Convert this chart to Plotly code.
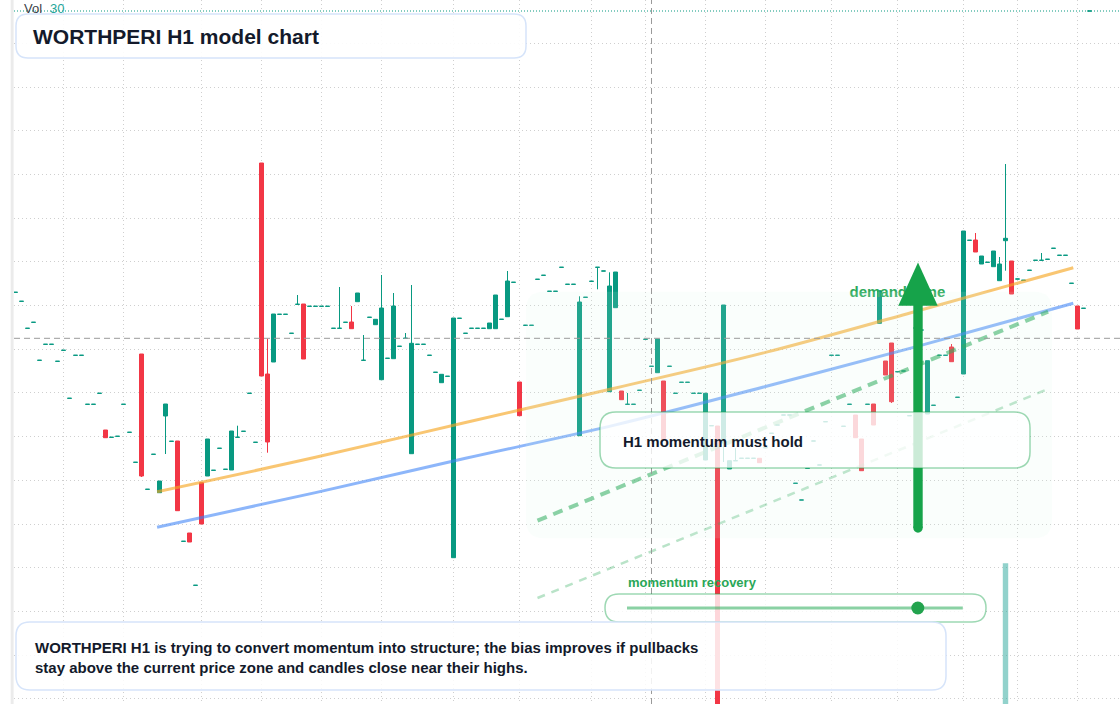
import plotly.graph_objects as go

# ---------------- data (price units) ----------------
open_ = [
    7.077, 6.987, 6.717, 6.777, 6.397, 6.557, 6.557, 6.387, 6.497, 6.017,
    6.447, 6.447, 5.957, 5.957, 6.067, 5.70, 5.627, 5.637, 5.957, 5.677,
    5.377, 6.46, 5.107, 5.457, 5.073, 5.84, 5.587, 5.59, 4.587, 4.67,
    4.147, 5.173, 5.24, 5.297, 5.517, 5.307, 5.30, 5.627, 5.687, 6.067,
    5.577, 8.37, 6.26, 6.38, 6.857, 6.857, 6.667, 6.957, 6.96, 6.937,
    6.937, 6.937, 6.937, 6.717, 6.717, 6.777, 6.78, 6.983, 6.397, 6.827,
    6.753, 6.203, 6.417, 6.413, 6.537, 6.617, 5.463, 6.557, 6.557, 6.447,
    6.277, 6.173, 6.237, 4.423, 6.817, 6.667, 6.717, 6.717, 6.717, 6.713,
    6.713, 6.807, 6.833, 7.177, 6.18, 6.747, 6.747, 7.207, 7.247, 7.087,
    7.087, 7.327, 7.157, 7.157, 5.643, 7.027, 7.187, 7.327, 7.29, 6.083,
    6.923, 6.09, 5.957, 5.957, 6.097, 6.607, 6.337, 6.273, 6.19, 6.337,
    6.067, 6.177, 6.177, 6.067, 6.067, 5.40, 5.743, 5.74, 5.57, 5.31,
    5.393, 5.417, 5.417, 5.417, 5.417, 5.523, 5.667, 5.75, 5.85, 5.85,
    5.167, 5.00, 5.317, 5.59, 5.35, 5.783, 6.447, 6.447, 5.737, 5.957,
    5.85, 5.61, 5.957, 5.96, 6.767, 6.39, 6.57, 6.283, 6.29, 5.843,
    6.72, 6.70, 5.86, 5.947, 6.447, 6.447, 6.53, 6.027, 6.26, 7.597,
    7.60, 7.36, 7.377, 7.333, 7.193, 7.593, 7.39, 7.21, 7.197, 7.297,
    7.397, 7.397, 7.407, 7.517, 7.447, 7.447, 7.167, 6.94, 6.917, 9.89,
]
high = [
    7.077, 6.987, 6.717, 6.777, 6.397, 6.557, 6.557, 6.387, 6.497, 6.017,
    6.447, 6.447, 5.957, 5.957, 6.067, 5.70, 5.627, 5.637, 5.957, 5.677,
    5.377, 6.46, 5.107, 5.457, 5.19, 5.96, 5.587, 5.59, 4.587, 4.67,
    4.147, 5.173, 5.61, 5.297, 5.517, 5.307, 5.69, 5.743, 5.687, 6.067,
    5.577, 8.37, 6.613, 6.86, 6.857, 6.857, 6.667, 7.05, 6.96, 6.937,
    6.937, 6.937, 6.937, 6.717, 7.13, 6.777, 6.94, 7.07, 6.65, 6.827,
    6.807, 7.25, 6.417, 7.07, 6.537, 6.67, 7.15, 6.557, 6.557, 6.447,
    6.277, 6.257, 6.237, 6.82, 6.817, 6.667, 6.717, 6.717, 6.717, 6.77,
    7.05, 6.807, 7.29, 7.177, 6.18, 6.747, 6.747, 7.207, 7.247, 7.087,
    7.087, 7.327, 7.157, 7.157, 7.037, 7.027, 7.187, 7.327, 7.29, 7.277,
    7.28, 6.09, 6.07, 5.957, 6.097, 6.607, 6.337, 6.61, 6.19, 6.337,
    6.067, 6.177, 6.177, 6.067, 6.067, 6.067, 5.743, 5.74, 6.95, 5.393,
    5.52, 5.417, 5.417, 5.417, 5.417, 5.523, 5.667, 5.75, 5.85, 5.85,
    5.167, 5.00, 5.317, 5.59, 5.35, 5.783, 6.447, 6.447, 5.737, 5.957,
    5.85, 5.61, 5.957, 5.96, 7.093, 6.39, 6.57, 6.283, 6.29, 5.843,
    6.72, 6.70, 6.393, 5.947, 6.447, 6.447, 6.56, 6.027, 7.69, 7.597,
    7.67, 7.44, 7.377, 7.49, 7.43, 8.36, 7.39, 7.21, 7.197, 7.297,
    7.397, 7.47, 7.407, 7.517, 7.447, 7.447, 7.167, 6.94, 6.917, 9.89,
]
low = [
    7.077, 6.987, 6.717, 6.777, 6.397, 6.557, 6.557, 6.387, 6.497, 6.017,
    6.447, 6.447, 5.957, 5.957, 6.067, 5.623, 5.627, 5.637, 5.957, 5.677,
    5.377, 5.23, 5.107, 5.457, 5.073, 5.46, 5.587, 4.893, 4.587, 4.58,
    4.147, 4.76, 5.24, 5.297, 5.517, 5.307, 5.30, 5.627, 5.687, 6.067,
    5.577, 6.24, 5.473, 6.38, 6.857, 6.857, 6.667, 6.957, 6.41, 6.937,
    6.937, 6.937, 6.937, 6.717, 6.717, 6.777, 6.713, 6.983, 6.397, 6.827,
    6.753, 6.203, 6.417, 6.413, 6.537, 6.617, 5.463, 6.557, 6.557, 6.447,
    6.277, 6.173, 6.237, 4.423, 6.817, 6.667, 6.717, 6.717, 6.717, 6.713,
    6.713, 6.807, 6.833, 7.177, 5.843, 6.747, 6.747, 7.207, 7.247, 7.087,
    7.087, 7.327, 7.157, 7.157, 5.643, 7.027, 7.187, 7.107, 7.29, 6.083,
    6.923, 6.003, 5.957, 5.957, 6.097, 6.607, 6.337, 6.273, 5.60, 6.337,
    6.067, 6.177, 6.177, 6.067, 6.067, 5.40, 5.743, 2.40, 5.38, 5.31,
    5.393, 5.417, 5.417, 5.417, 5.373, 5.523, 5.667, 5.75, 5.85, 5.85,
    5.167, 5.00, 5.317, 5.59, 5.35, 5.783, 6.447, 6.447, 5.737, 5.957,
    5.623, 5.293, 5.957, 5.75, 6.767, 6.25, 5.97, 6.283, 6.29, 5.843,
    6.72, 6.70, 5.86, 5.947, 6.447, 6.447, 6.383, 6.027, 6.26, 7.597,
    7.48, 7.36, 7.377, 7.333, 7.193, 7.293, 7.06, 7.21, 7.197, 7.297,
    7.397, 7.397, 7.407, 7.517, 7.447, 7.447, 7.167, 6.71, 6.917, 9.89,
]
close = [
    7.077, 6.987, 6.717, 6.777, 6.397, 6.557, 6.557, 6.387, 6.497, 6.017,
    6.447, 6.447, 5.957, 5.957, 6.067, 5.623, 5.627, 5.637, 5.957, 5.677,
    5.377, 5.24, 5.107, 5.457, 5.19, 5.96, 5.587, 4.893, 4.587, 4.58,
    4.147, 4.76, 5.61, 5.297, 5.517, 5.307, 5.69, 5.627, 5.687, 6.067,
    5.577, 6.24, 5.58, 6.86, 6.857, 6.857, 6.667, 6.957, 6.41, 6.937,
    6.937, 6.937, 6.937, 6.717, 6.717, 6.777, 6.713, 7.07, 6.397, 6.827,
    6.807, 6.92, 6.417, 6.94, 6.537, 6.617, 6.567, 6.557, 6.557, 6.447,
    6.277, 6.257, 6.237, 6.82, 6.817, 6.667, 6.717, 6.717, 6.717, 6.77,
    7.05, 6.807, 7.19, 7.177, 5.843, 6.747, 6.747, 7.207, 7.247, 7.087,
    7.087, 7.327, 7.157, 7.157, 6.98, 7.027, 7.187, 7.327, 7.29, 7.14,
    7.28, 6.003, 5.957, 5.957, 6.097, 6.607, 6.337, 6.61, 5.60, 6.337,
    6.067, 6.177, 6.177, 6.067, 6.067, 6.067, 5.743, 2.40, 6.95, 5.393,
    5.393, 5.417, 5.417, 5.417, 5.373, 5.523, 5.667, 5.75, 5.85, 5.85,
    5.167, 5.00, 5.317, 5.59, 5.35, 5.783, 6.447, 6.447, 5.737, 5.957,
    5.623, 5.293, 5.957, 5.75, 7.093, 6.25, 5.983, 6.283, 6.29, 5.843,
    6.72, 6.70, 6.393, 5.947, 6.447, 6.447, 6.383, 6.027, 7.69, 7.597,
    7.48, 7.44, 7.377, 7.49, 7.36, 7.617, 7.06, 7.21, 7.197, 7.297,
    7.397, 7.397, 7.407, 7.517, 7.447, 7.447, 7.167, 6.71, 6.917, 9.89,
]

volume_bar_index = [165]
volume_bar_value = [20]

# overlay curves (bar index, price)
fast_x = [23.6, 50, 75, 100, 125, 150, 176.3]
fast_y = [5.083, 5.427, 5.775, 6.12, 6.476, 6.885, 7.323]
slow_x = [23.6, 50, 75, 100, 125, 150, 176.3]
slow_y = [4.727, 5.074, 5.417, 5.751, 6.135, 6.531, 6.967]
channel_x = [87.0, 172.1]
channel_upper = [4.793, 6.883]
channel_lower = [4.02, 6.11]

crosshair_index = 106
crosshair_price = 6.617
time_grid_index = [8, 18, 31, 41, 51, 61, 73, 84, 96, 105, 115, 125, 136, 147, 158, 167, 177]

title_text = "WORTHPERI H1 model chart"
note_lines = [
    "WORTHPERI H1 is trying to convert momentum into structure; the bias improves if pullbacks",
    "stay above the current price zone and candles close near their highs.",
]

# ---------------- layout helpers ----------------
W, H = 1120, 704
ML = 14
PW = W - ML
FONT = "Liberation Sans, Arial, sans-serif"
TEAL = "#089981"
RED = "#f23645"
GREEN = "#16a34a"
INK = "#131a2b"


def px(x):
    return (x - ML) / PW


def py(y):
    return 1 - y / H


def rrect(x0, y0, x1, y1, r):
    return (
        f"M {px(x0 + r)},{py(y0)} L {px(x1 - r)},{py(y0)} "
        f"Q {px(x1)},{py(y0)} {px(x1)},{py(y0 + r)} "
        f"L {px(x1)},{py(y1 - r)} Q {px(x1)},{py(y1)} {px(x1 - r)},{py(y1)} "
        f"L {px(x0 + r)},{py(y1)} Q {px(x0)},{py(y1)} {px(x0)},{py(y1 - r)} "
        f"L {px(x0)},{py(y0 + r)} Q {px(x0)},{py(y0)} {px(x0 + r)},{py(y0)} Z"
    )


idx = list(range(len(open_)))
up = [i for i in idx if close[i] >= open_[i]]
dn = [i for i in idx if close[i] < open_[i]]


def pick(arr, ids):
    return [arr[i] for i in ids]


fig = go.Figure()

# label that sits underneath the candles
fig.add_trace(go.Scatter(
    x=[139.0], y=[7.07], mode="text", text=["<b>demand zone</b>"],
    textposition="middle right",
    textfont=dict(family=FONT, size=15, color="#2eaa5c"),
    hoverinfo="skip", showlegend=False,
))

for ids, col in ((up, TEAL), (dn, RED)):
    fig.add_trace(go.Candlestick(
        x=ids,
        open=pick(open_, ids), high=pick(high, ids),
        low=pick(low, ids), close=pick(close, ids),
        increasing=dict(line=dict(color=col, width=1), fillcolor=col),
        decreasing=dict(line=dict(color=col, width=1), fillcolor=col),
        whiskerwidth=0, hoverinfo="skip", showlegend=False,
    ))

fig.add_trace(go.Scatter(
    x=fast_x, y=fast_y, mode="lines",
    line=dict(color="rgba(245,166,35,0.64)", width=3, shape="spline"),
    hoverinfo="skip", showlegend=False,
))
fig.add_trace(go.Scatter(
    x=slow_x, y=slow_y, mode="lines",
    line=dict(color="rgba(59,130,246,0.58)", width=3, shape="spline"),
    hoverinfo="skip", showlegend=False,
))
fig.add_trace(go.Scatter(
    x=channel_x, y=channel_upper, mode="lines",
    line=dict(color="rgba(22,163,74,0.55)", width=4, dash="10px,7px"),
    hoverinfo="skip", showlegend=False,
))
fig.add_trace(go.Scatter(
    x=channel_x, y=channel_lower, mode="lines",
    line=dict(color="rgba(22,163,74,0.3)", width=2.5, dash="8px,7px"),
    hoverinfo="skip", showlegend=False,
))
fig.add_trace(go.Bar(
    x=volume_bar_index, y=volume_bar_value, yaxis="y2", width=0.9,
    marker=dict(color="rgba(38,166,154,0.5)", line=dict(width=0)),
    hoverinfo="skip", showlegend=False,
))

shapes = []
# left scale strip
shapes.append(dict(type="rect", xref="paper", yref="paper",
                   x0=px(10.7), x1=px(13.6), y0=0, y1=1,
                   fillcolor="#ebebeb", line=dict(width=0), layer="below"))
# demand zone
shapes.append(dict(type="path", xref="paper", yref="paper",
                   path=rrect(526, 291.7, 1052, 538.3, 18),
                   fillcolor="rgba(220,246,228,0.13)", line=dict(width=0), layer="above"))
# crosshair
shapes.append(dict(type="line", xref="x", yref="paper",
                   x0=crosshair_index, x1=crosshair_index, y0=0, y1=1,
                   line=dict(color="#9a9a9a", width=1, dash="6px,4px"), layer="above"))
shapes.append(dict(type="line", xref="paper", yref="y",
                   x0=0, x1=1, y0=crosshair_price, y1=crosshair_price,
                   line=dict(color="#9a9a9a", width=1, dash="6px,4px"), layer="above"))
# last price line
shapes.append(dict(type="line", xref="paper", yref="y",
                   x0=0, x1=1, y0=close[-1], y1=close[-1],
                   line=dict(color=TEAL, width=1, dash="1px,2px"), layer="above"))
# arrow
shapes.append(dict(type="rect", xref="paper", yref="paper",
                   x0=px(913.3), x1=px(922.7), y0=py(528), y1=py(304),
                   fillcolor=GREEN, line=dict(width=0), layer="above"))
shapes.append(dict(type="circle", xref="paper", yref="paper",
                   x0=px(913.3), x1=px(922.7), y0=py(532.7), y1=py(523.3),
                   fillcolor=GREEN, line=dict(width=0), layer="above"))
shapes.append(dict(type="path", xref="paper", yref="paper",
                   path=f"M {px(898.3)},{py(305.7)} L {px(937.7)},{py(305.7)} L {px(918)},{py(262.5)} Z",
                   fillcolor=GREEN, line=dict(width=0), layer="above"))
# H1 box
shapes.append(dict(type="path", xref="paper", yref="paper",
                   path=rrect(600, 412, 1030, 468, 16),
                   fillcolor="rgba(255,255,255,0.78)",
                   line=dict(color="rgba(22,163,74,0.42)", width=1.5), layer="above"))
# slider box
shapes.append(dict(type="path", xref="paper", yref="paper",
                   path=rrect(605, 594, 986, 622, 14),
                   fillcolor="rgba(255,255,255,0.8)",
                   line=dict(color="rgba(22,163,74,0.42)", width=1.5), layer="above"))
shapes.append(dict(type="line", xref="paper", yref="paper",
                   x0=px(627), x1=px(962.8), y0=py(608), y1=py(608),
                   line=dict(color="rgba(22,163,74,0.5)", width=3), layer="above"))
shapes.append(dict(type="circle", xref="paper", yref="paper",
                   x0=px(911.3), x1=px(924.3), y0=py(614.5), y1=py(601.5),
                   fillcolor="#22a34e", line=dict(width=0), layer="above"))
# note box
shapes.append(dict(type="path", xref="paper", yref="paper",
                   path=rrect(16, 622, 946, 690, 14),
                   fillcolor="rgba(255,255,255,0.86)",
                   line=dict(color="#d6e4fa", width=1.5), layer="above"))
# title box
shapes.append(dict(type="path", xref="paper", yref="paper",
                   path=rrect(16, 14, 526, 58, 12),
                   fillcolor="rgba(255,255,255,0.92)",
                   line=dict(color="#d6e4fa", width=1.5), layer="above"))


def ann(x, y, text, size, color, bold=True):
    return dict(x=px(x), y=py(y), xref="paper", yref="paper",
                text=f"<b>{text}</b>" if bold else text,
                showarrow=False, xanchor="left", yanchor="middle",
                font=dict(family=FONT, size=size, color=color))


annotations = [
    ann(22, 8.5, "Vol", 13, "#3c3f48", bold=False),
    ann(48, 8.5, "30", 13, "#26a69a", bold=False),
    ann(31, 36, title_text, 21, INK),
    ann(621, 441, "H1 momentum must hold", 15, INK),
    ann(626, 582.5, "momentum recovery", 13, "#2aa757"),
    ann(33, 647, note_lines[0], 15, INK),
    ann(33, 667, note_lines[1], 15, INK),
]

fig.update_layout(
    width=W, height=H,
    margin=dict(l=ML, r=0, t=0, b=0),
    paper_bgcolor="white", plot_bgcolor="white",
    showlegend=False, hovermode=False,
    boxgap=1 / 3, boxgroupgap=0,
    shapes=shapes, annotations=annotations,
    xaxis=dict(range=[-0.25, 184.083], tickmode="array", tickvals=time_grid_index,
               showticklabels=False, ticks="", showgrid=True, gridcolor="#cfcfcf",
               griddash="1px,3px", gridwidth=1, zeroline=False, showline=False,
               rangeslider=dict(visible=False), fixedrange=True),
    yaxis=dict(range=[2.96, 10.0], tickmode="linear", tick0=9.567, dtick=0.437,
               showticklabels=False, ticks="", showgrid=True, gridcolor="#cfcfcf",
               griddash="1px,3px", gridwidth=1, zeroline=False, showline=False),
    yaxis2=dict(range=[0, 100], overlaying="y", visible=False, showgrid=False),
)

fig.write_html("out.html")
